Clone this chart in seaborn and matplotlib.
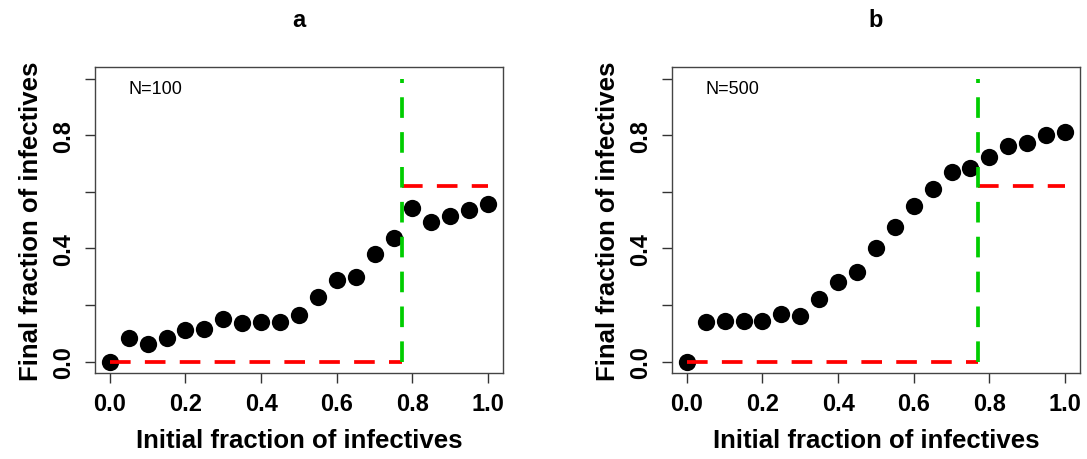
import matplotlib
matplotlib.use("Agg")
import matplotlib.pyplot as plt
import pandas as pd
import seaborn as sns

# fraction of initial infectives (x) and final fraction (y) for both sizes
initial_frac = [0.0, 0.05, 0.1, 0.15, 0.2, 0.25, 0.3, 0.35, 0.4, 0.45, 0.5,
                0.55, 0.6, 0.65, 0.7, 0.75, 0.8, 0.85, 0.9, 0.95, 1.0]
final_n100 = [0.0, 0.082, 0.061, 0.085, 0.112, 0.115, 0.150, 0.137, 0.141, 0.139, 0.166,
              0.228, 0.287, 0.300, 0.381, 0.437, 0.542, 0.495, 0.513, 0.537, 0.558]
final_n500 = [0.0, 0.139, 0.145, 0.145, 0.142, 0.167, 0.163, 0.221, 0.281, 0.317, 0.403,
              0.476, 0.551, 0.610, 0.670, 0.684, 0.724, 0.763, 0.771, 0.801, 0.813]

# theoretical threshold and upper level (same for both panels)
threshold = 0.771
upper_level = 0.622

panel_titles = ["a", "b"]
panel_notes = ["N=100", "N=500"]
x_ticks = [0.0, 0.2, 0.4, 0.6, 0.8, 1.0]
y_ticks = [0.0, 0.2, 0.4, 0.6, 0.8, 1.0]
y_ticklabels = ["0.0", "", "0.4", "", "0.8", ""]

sns.set_style("white")
plt.rcParams['font.family'] = ['Liberation Sans', 'DejaVu Sans']
plt.rcParams['text.color'] = 'black'
plt.rcParams['axes.labelcolor'] = 'black'
plt.rcParams['xtick.color'] = 'black'
plt.rcParams['ytick.color'] = 'black'

fig = plt.figure(figsize=(10.87, 4.6), dpi=100)
positions = [[0.0871, 0.187, 0.3759, 0.6645],
             [0.6180, 0.187, 0.3756, 0.6645]]

dash_style = (5.5, 3.8)
series = [final_n100, final_n500]

for i in range(2):
    ax = fig.add_axes(positions[i])
    df = pd.DataFrame({"x": initial_frac, "y": series[i]})
    sns.scatterplot(data=df, x="x", y="y", ax=ax, color="black", s=155,
                    linewidth=0, zorder=2)

    ax.plot([0, threshold], [0, 0], color="#ff0000", lw=2.7,
            linestyle=(0, dash_style), zorder=3)
    ax.plot([threshold, 1.0], [upper_level, upper_level], color="#ff0000",
            lw=2.7, linestyle=(0, dash_style), zorder=3)
    ax.plot([threshold, threshold], [0, 1.0], color="#00cd00", lw=2.7,
            linestyle=(0, dash_style), zorder=3)

    ax.set_xlim(-0.04, 1.04)
    ax.set_ylim(-0.04, 1.04)
    ax.set_xticks(x_ticks)
    ax.set_xticklabels([f"{t:.1f}" for t in x_ticks], fontsize=17,
                       fontweight="bold")
    ax.set_yticks(y_ticks)
    ax.set_yticklabels(y_ticklabels, fontsize=17, fontweight="bold",
                       rotation=90, va="center")
    ax.tick_params(axis="both", direction="out", length=7, width=1,
                   color="#333333", left=True, bottom=True, pad=7)

    for sp in ax.spines.values():
        sp.set_color("#444444")
        sp.set_linewidth(1)

    ax.set_xlabel("Initial fraction of infectives", fontsize=18.5,
                  fontweight="bold", labelpad=9)
    ax.set_ylabel("Final fraction of infectives", fontsize=18.5,
                  fontweight="bold", labelpad=7)
    ax.set_title(panel_titles[i], fontsize=17, fontweight="bold", pad=30)
    ax.text(0.05, 0.964, panel_notes[i], fontsize=13, va="center",
            ha="left")

fig.savefig("out.png", dpi=100)
